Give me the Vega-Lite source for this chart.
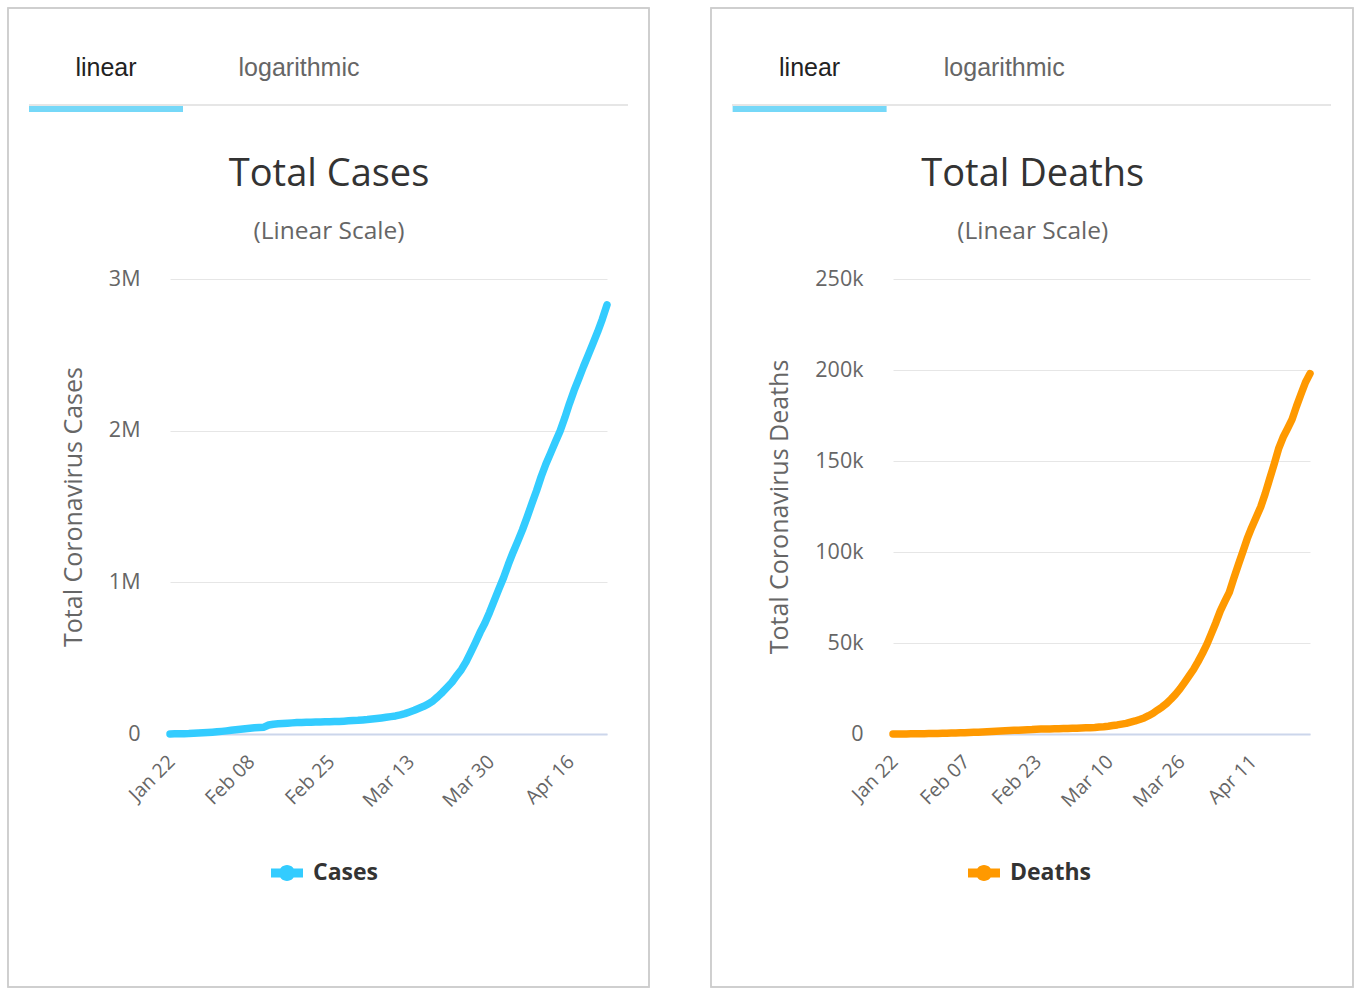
{
  "$schema": "https://vega.github.io/schema/vega-lite/v6.json",
  "padding": {"left": 7, "top": 7, "right": 9, "bottom": 9},
  "background": "white",
  "config": {"view": {"stroke": null}, "font": "Open Sans"},
  "datasets": {
    "tabs": [
      {"tab": "linear", "active": true},
      {"tab": "logarithmic", "active": false}
    ],
    "covid": [
      {"date": "2020-01-22", "cases": 580, "deaths": 17},
      {"date": "2020-01-23", "cases": 845, "deaths": 25},
      {"date": "2020-01-24", "cases": 1317, "deaths": 41},
      {"date": "2020-01-25", "cases": 2015, "deaths": 56},
      {"date": "2020-01-26", "cases": 2800, "deaths": 80},
      {"date": "2020-01-27", "cases": 4581, "deaths": 106},
      {"date": "2020-01-28", "cases": 6058, "deaths": 132},
      {"date": "2020-01-29", "cases": 7813, "deaths": 170},
      {"date": "2020-01-30", "cases": 9823, "deaths": 213},
      {"date": "2020-01-31", "cases": 11950, "deaths": 259},
      {"date": "2020-02-01", "cases": 14553, "deaths": 304},
      {"date": "2020-02-02", "cases": 17391, "deaths": 362},
      {"date": "2020-02-03", "cases": 20630, "deaths": 426},
      {"date": "2020-02-04", "cases": 24545, "deaths": 492},
      {"date": "2020-02-05", "cases": 28266, "deaths": 565},
      {"date": "2020-02-06", "cases": 31439, "deaths": 638},
      {"date": "2020-02-07", "cases": 34876, "deaths": 724},
      {"date": "2020-02-08", "cases": 37552, "deaths": 813},
      {"date": "2020-02-09", "cases": 40553, "deaths": 910},
      {"date": "2020-02-10", "cases": 43099, "deaths": 1018},
      {"date": "2020-02-11", "cases": 45134, "deaths": 1115},
      {"date": "2020-02-12", "cases": 59287, "deaths": 1261},
      {"date": "2020-02-13", "cases": 64438, "deaths": 1383},
      {"date": "2020-02-14", "cases": 67100, "deaths": 1526},
      {"date": "2020-02-15", "cases": 69197, "deaths": 1669},
      {"date": "2020-02-16", "cases": 71329, "deaths": 1775},
      {"date": "2020-02-17", "cases": 73332, "deaths": 1873},
      {"date": "2020-02-18", "cases": 75184, "deaths": 2009},
      {"date": "2020-02-19", "cases": 75700, "deaths": 2126},
      {"date": "2020-02-20", "cases": 76677, "deaths": 2247},
      {"date": "2020-02-21", "cases": 77673, "deaths": 2360},
      {"date": "2020-02-22", "cases": 78651, "deaths": 2460},
      {"date": "2020-02-23", "cases": 79205, "deaths": 2618},
      {"date": "2020-02-24", "cases": 80087, "deaths": 2699},
      {"date": "2020-02-25", "cases": 80828, "deaths": 2763},
      {"date": "2020-02-26", "cases": 81820, "deaths": 2800},
      {"date": "2020-02-27", "cases": 83112, "deaths": 2858},
      {"date": "2020-02-28", "cases": 84615, "deaths": 2923},
      {"date": "2020-02-29", "cases": 86604, "deaths": 2977},
      {"date": "2020-03-01", "cases": 88585, "deaths": 3050},
      {"date": "2020-03-02", "cases": 90443, "deaths": 3117},
      {"date": "2020-03-03", "cases": 93016, "deaths": 3202},
      {"date": "2020-03-04", "cases": 95314, "deaths": 3285},
      {"date": "2020-03-05", "cases": 98425, "deaths": 3387},
      {"date": "2020-03-06", "cases": 102050, "deaths": 3494},
      {"date": "2020-03-07", "cases": 106099, "deaths": 3599},
      {"date": "2020-03-08", "cases": 109991, "deaths": 3827},
      {"date": "2020-03-09", "cases": 114381, "deaths": 4025},
      {"date": "2020-03-10", "cases": 118948, "deaths": 4296},
      {"date": "2020-03-11", "cases": 126214, "deaths": 4628},
      {"date": "2020-03-12", "cases": 134576, "deaths": 4981},
      {"date": "2020-03-13", "cases": 145483, "deaths": 5428},
      {"date": "2020-03-14", "cases": 156653, "deaths": 5833},
      {"date": "2020-03-15", "cases": 169593, "deaths": 6520},
      {"date": "2020-03-16", "cases": 182490, "deaths": 7162},
      {"date": "2020-03-17", "cases": 198238, "deaths": 7958},
      {"date": "2020-03-18", "cases": 218822, "deaths": 8843},
      {"date": "2020-03-19", "cases": 246417, "deaths": 10071},
      {"date": "2020-03-20", "cases": 275875, "deaths": 11412},
      {"date": "2020-03-21", "cases": 308463, "deaths": 13168},
      {"date": "2020-03-22", "cases": 341365, "deaths": 14811},
      {"date": "2020-03-23", "cases": 383580, "deaths": 16758},
      {"date": "2020-03-24", "cases": 424212, "deaths": 19161},
      {"date": "2020-03-25", "cases": 475936, "deaths": 21799},
      {"date": "2020-03-26", "cases": 538689, "deaths": 24800},
      {"date": "2020-03-27", "cases": 603066, "deaths": 28268},
      {"date": "2020-03-28", "cases": 670477, "deaths": 31853},
      {"date": "2020-03-29", "cases": 730591, "deaths": 35351},
      {"date": "2020-03-30", "cases": 801519, "deaths": 39620},
      {"date": "2020-03-31", "cases": 880108, "deaths": 44228},
      {"date": "2020-04-01", "cases": 956588, "deaths": 49225},
      {"date": "2020-04-02", "cases": 1032000, "deaths": 55168},
      {"date": "2020-04-03", "cases": 1118000, "deaths": 61153},
      {"date": "2020-04-04", "cases": 1197000, "deaths": 67637},
      {"date": "2020-04-05", "cases": 1270000, "deaths": 72849},
      {"date": "2020-04-06", "cases": 1346000, "deaths": 77807},
      {"date": "2020-04-07", "cases": 1430000, "deaths": 85523},
      {"date": "2020-04-08", "cases": 1518000, "deaths": 92829},
      {"date": "2020-04-09", "cases": 1604000, "deaths": 100009},
      {"date": "2020-04-10", "cases": 1698000, "deaths": 107303},
      {"date": "2020-04-11", "cases": 1780000, "deaths": 113523},
      {"date": "2020-04-12", "cases": 1852000, "deaths": 119145},
      {"date": "2020-04-13", "cases": 1925000, "deaths": 124729},
      {"date": "2020-04-14", "cases": 1996000, "deaths": 132025},
      {"date": "2020-04-15", "cases": 2083000, "deaths": 140140},
      {"date": "2020-04-16", "cases": 2178000, "deaths": 148216},
      {"date": "2020-04-17", "cases": 2265000, "deaths": 156764},
      {"date": "2020-04-18", "cases": 2343000, "deaths": 163017},
      {"date": "2020-04-19", "cases": 2423000, "deaths": 167822},
      {"date": "2020-04-20", "cases": 2498000, "deaths": 172862},
      {"date": "2020-04-21", "cases": 2574000, "deaths": 180156},
      {"date": "2020-04-22", "cases": 2651000, "deaths": 186793},
      {"date": "2020-04-23", "cases": 2735000, "deaths": 193271},
      {"date": "2020-04-24", "cases": 2829000, "deaths": 198000}
    ]
  },
  "bounds": "flush",
  "spacing": 703,
  "resolve": {"scale": {"x": "independent", "y": "independent", "color": "independent"}, "legend": {"color": "independent"}},
  "hconcat": [
    {
      "bounds": "flush",
      "spacing": 174,
      "center": true,
      "resolve": {"scale": {"x": "independent", "y": "independent", "color": "independent"}},
      "vconcat": [
        {
          "width": 719,
          "height": 75,
          "data": {"name": "tabs"},
          "resolve": {"scale": {"x": "independent"}},
          "layer": [
            {"mark": {"type": "rect", "filled": false, "stroke": "#cccccc", "strokeWidth": 1.5}, "encoding": {"x": {"datum": -0.02921, "type": "quantitative", "scale": {"domain": [0, 1]}, "axis": null}, "x2": {"datum": 0.86231}, "y": {"datum": 1.2933, "type": "quantitative", "scale": {"domain": [0, 1]}, "axis": null}, "y2": {"datum": -11.76}}},
            {"mark": {"type": "rule", "color": "#e6e6e6", "strokeWidth": 2}, "encoding": {"x": {"datum": 0, "type": "quantitative", "scale": {"domain": [0, 1]}, "axis": null}, "x2": {"datum": 0.8331}, "y": {"datum": 0, "type": "quantitative", "scale": {"domain": [0, 1]}, "axis": null}}},
            {"layer": [
              {"transform": [{"filter": "datum.active"}], "mark": {"type": "tick", "color": "#3cc8f5", "thickness": 6, "size": 154, "yOffset": 4}, "encoding": {"x": {"field": "tab", "type": "nominal", "scale": {"paddingInner": 0.2021, "paddingOuter": 0.9637, "align": 0}, "axis": null}, "y": {"datum": 0, "type": "quantitative"}}},
              {"mark": {"type": "text", "font": "Liberation Sans", "fontSize": 25, "baseline": "middle"}, "encoding": {"x": {"field": "tab", "type": "nominal"}, "y": {"datum": 0.5, "type": "quantitative"}, "text": {"field": "tab"}, "color": {"condition": {"test": "datum.active", "value": "#222222"}, "value": "#666666"}}}
            ]}
          ]
        },
        {
          "width": 437,
          "height": 455,
          "data": {"name": "covid"},
          "title": {"text": "Total Cases", "subtitle": "(Linear Scale)", "anchor": "middle", "frame": "bounds", "dx": -7, "offset": 25, "font": "Open Sans", "fontSize": 38, "fontWeight": "normal", "color": "#333333", "subtitleFont": "Open Sans", "subtitleFontSize": 24.5, "subtitleColor": "#666666", "subtitlePadding": 26},
          "mark": {"type": "line", "strokeWidth": 7.5, "strokeCap": "round", "strokeJoin": "round"},
          "encoding": {
            "x": {"field": "date", "type": "temporal", "scale": {"type": "utc", "nice": false},
              "axis": {"title": null, "values": [{"year": 2020, "month": 1, "date": 22, "utc": true}, {"year": 2020, "month": 2, "date": 8, "utc": true}, {"year": 2020, "month": 2, "date": 25, "utc": true}, {"year": 2020, "month": 3, "date": 13, "utc": true}, {"year": 2020, "month": 3, "date": 30, "utc": true}, {"year": 2020, "month": 4, "date": 16, "utc": true}],
                "labelExpr": "utcFormat(datum.value, '%b %d')", "labelAngle": -45, "labelAlign": "right", "labelBaseline": "top", "labelOffset": -5, "labelFont": "Open Sans", "labelFontSize": 19.5, "labelColor": "#666666", "ticks": false, "grid": false, "domainColor": "#ccd6eb", "domainWidth": 2, "labelPadding": 18}},
            "y": {"field": "cases", "type": "quantitative", "scale": {"domain": [0, 3000000], "nice": false},
              "axis": {"title": "Total Coronavirus Cases", "values": [0, 1000000, 2000000, 3000000], "labelExpr": "datum.value == 0 ? '0' : (datum.value / 1000000) + 'M'", "domain": false, "ticks": false, "gridColor": "#e6e6e6", "labelPadding": 30, "labelFont": "Open Sans", "labelFontSize": 21.5, "labelColor": "#666666", "titleFont": "Open Sans", "titleFontSize": 25, "titleFontWeight": "normal", "titleColor": "#666666", "titlePadding": 22}},
            "color": {"datum": "Cases", "type": "nominal", "scale": {"range": ["#33ccff"]},
              "legend": {"title": null, "orient": "none", "legendX": 101, "legendY": 578, "symbolType": "M-1,-0.28L1,-0.28L1,0.28L-1,0.28Z M-0.5,0A0.5,0.5 0 1 1 0.5,0A0.5,0.5 0 1 1 -0.5,0Z", "symbolSize": 1024, "labelFont": "Open Sans", "labelFontSize": 23, "labelFontWeight": "bold", "labelColor": "#333333", "labelOffset": 10, "labelLimit": 0,
                "encode": {"symbols": {"update": {"fill": {"value": "#33ccff"}, "stroke": {"value": "transparent"}, "strokeWidth": {"value": 0}}}}}}
          }
        }
      ]
    },
    {
      "bounds": "flush",
      "spacing": 174,
      "center": true,
      "resolve": {"scale": {"x": "independent", "y": "independent", "color": "independent"}},
      "vconcat": [
        {
          "width": 739,
          "height": 75,
          "data": {"name": "tabs"},
          "resolve": {"scale": {"x": "independent"}},
          "layer": [
            {"mark": {"type": "rect", "filled": false, "stroke": "#cccccc", "strokeWidth": 1.5}, "encoding": {"x": {"datum": -0.02842, "type": "quantitative", "scale": {"domain": [0, 1]}, "axis": null}, "x2": {"datum": 0.84032}, "y": {"datum": 1.2933, "type": "quantitative", "scale": {"domain": [0, 1]}, "axis": null}, "y2": {"datum": -11.76}}},
            {"mark": {"type": "rule", "color": "#e6e6e6", "strokeWidth": 2}, "encoding": {"x": {"datum": 0, "type": "quantitative", "scale": {"domain": [0, 1]}, "axis": null}, "x2": {"datum": 0.8106}, "y": {"datum": 0, "type": "quantitative", "scale": {"domain": [0, 1]}, "axis": null}}},
            {"layer": [
              {"transform": [{"filter": "datum.active"}], "mark": {"type": "tick", "color": "#3cc8f5", "thickness": 6, "size": 154, "yOffset": 4}, "encoding": {"x": {"field": "tab", "type": "nominal", "scale": {"paddingInner": 0.2021, "paddingOuter": 1.0155, "align": 0}, "axis": null}, "y": {"datum": 0, "type": "quantitative"}}},
              {"mark": {"type": "text", "font": "Liberation Sans", "fontSize": 25, "baseline": "middle"}, "encoding": {"x": {"field": "tab", "type": "nominal"}, "y": {"datum": 0.5, "type": "quantitative"}, "text": {"field": "tab"}, "color": {"condition": {"test": "datum.active", "value": "#222222"}, "value": "#666666"}}}
            ]}
          ]
        },
        {
          "width": 417,
          "height": 455,
          "data": {"name": "covid"},
          "title": {"text": "Total Deaths", "subtitle": "(Linear Scale)", "anchor": "middle", "frame": "bounds", "dx": -8, "offset": 25, "font": "Open Sans", "fontSize": 38, "fontWeight": "normal", "color": "#333333", "subtitleFont": "Open Sans", "subtitleFontSize": 24.5, "subtitleColor": "#666666", "subtitlePadding": 26},
          "mark": {"type": "line", "strokeWidth": 7.5, "strokeCap": "round", "strokeJoin": "round"},
          "encoding": {
            "x": {"field": "date", "type": "temporal", "scale": {"type": "utc", "nice": false},
              "axis": {"title": null, "values": [{"year": 2020, "month": 1, "date": 22, "utc": true}, {"year": 2020, "month": 2, "date": 7, "utc": true}, {"year": 2020, "month": 2, "date": 23, "utc": true}, {"year": 2020, "month": 3, "date": 10, "utc": true}, {"year": 2020, "month": 3, "date": 26, "utc": true}, {"year": 2020, "month": 4, "date": 11, "utc": true}],
                "labelExpr": "utcFormat(datum.value, '%b %d')", "labelAngle": -45, "labelAlign": "right", "labelBaseline": "top", "labelOffset": -5, "labelFont": "Open Sans", "labelFontSize": 19.5, "labelColor": "#666666", "ticks": false, "grid": false, "domainColor": "#ccd6eb", "domainWidth": 2, "labelPadding": 18}},
            "y": {"field": "deaths", "type": "quantitative", "scale": {"domain": [0, 250000], "nice": false},
              "axis": {"title": "Total Coronavirus Deaths", "values": [0, 50000, 100000, 150000, 200000, 250000], "labelExpr": "datum.value == 0 ? '0' : (datum.value / 1000) + 'k'", "domain": false, "ticks": false, "gridColor": "#e6e6e6", "labelPadding": 30, "labelFont": "Open Sans", "labelFontSize": 21.5, "labelColor": "#666666", "titleFont": "Open Sans", "titleFontSize": 25, "titleFontWeight": "normal", "titleColor": "#666666", "titlePadding": 22}},
            "color": {"datum": "Deaths", "type": "nominal", "scale": {"range": ["#ff9900"]},
              "legend": {"title": null, "orient": "none", "legendX": 75, "legendY": 578, "symbolType": "M-1,-0.28L1,-0.28L1,0.28L-1,0.28Z M-0.5,0A0.5,0.5 0 1 1 0.5,0A0.5,0.5 0 1 1 -0.5,0Z", "symbolSize": 1024, "labelFont": "Open Sans", "labelFontSize": 23, "labelFontWeight": "bold", "labelColor": "#333333", "labelOffset": 10, "labelLimit": 0,
                "encode": {"symbols": {"update": {"fill": {"value": "#ff9900"}, "stroke": {"value": "transparent"}, "strokeWidth": {"value": 0}}}}}}
          }
        }
      ]
    }
  ]
}
